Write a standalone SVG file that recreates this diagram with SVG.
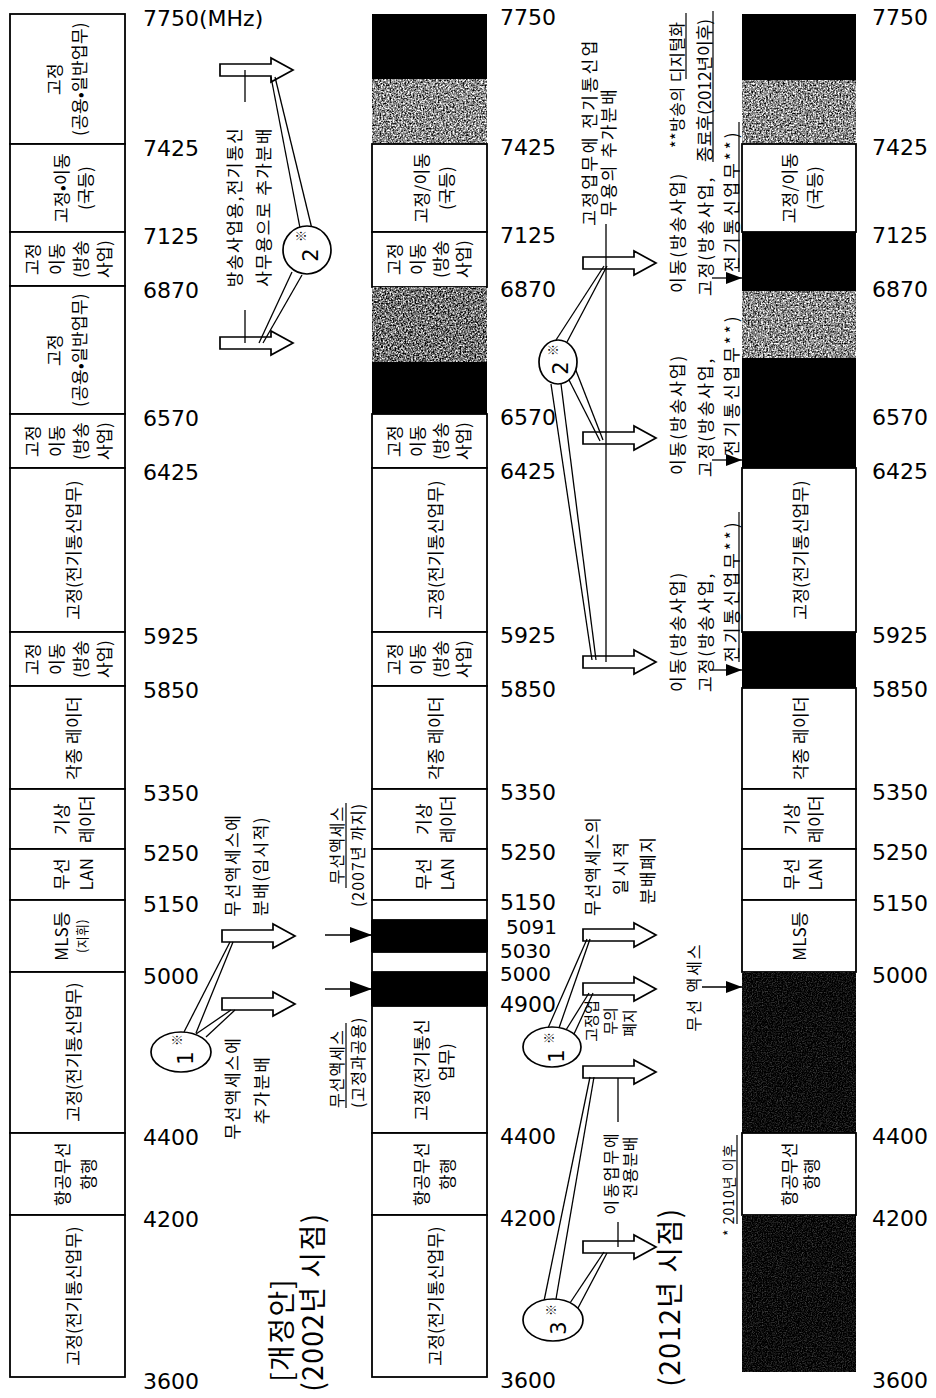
<svg xmlns="http://www.w3.org/2000/svg" width="936" height="1398" viewBox="0 0 936 1398">
<defs>
<style>
.n{font-family:"DejaVu Sans","Liberation Sans",sans-serif;font-size:22px;fill:#000}
.n2{font-size:20px}
.k{font-family:"Noto Sans CJK KR","Noto Sans",sans-serif;font-size:17px;letter-spacing:0.3px;text-anchor:middle;dominant-baseline:central;fill:#000}
.a{font-family:"Noto Sans CJK KR","Noto Sans",sans-serif;font-size:17px;letter-spacing:1.5px;text-anchor:middle;dominant-baseline:central;fill:#000}
.s{text-anchor:start}
.t{font-family:"Noto Sans CJK KR","Noto Sans",sans-serif;font-size:28px;letter-spacing:1.5px;text-anchor:middle;dominant-baseline:central;fill:#000}
.d{font-family:"DejaVu Sans","Liberation Sans",sans-serif;font-size:21px;text-anchor:middle;dominant-baseline:central;fill:#000}
.m{font-family:"Noto Sans CJK KR",sans-serif;font-size:12px;text-anchor:middle;dominant-baseline:central;fill:#000}
.box{fill:#fff;stroke:#000;stroke-width:1.8}
.blk{fill:#000}
.ln{stroke:#000;stroke-width:1.3;fill:none}
.ul{stroke:#000;stroke-width:1.2;fill:none}
.ba{fill:#fff;stroke:#000;stroke-width:1.7}
.el{fill:#fff;stroke:#000;stroke-width:1.7}
</style>
<filter id="grain" x="0" y="0" width="1" height="1" color-interpolation-filters="sRGB">
<feTurbulence type="fractalNoise" baseFrequency="0.6" numOctaves="3" seed="4"/>
<feColorMatrix type="matrix" values="2 0 0 0 -0.45  2 0 0 0 -0.45  2 0 0 0 -0.45  0 0 0 0 1"/>
</filter>
<filter id="grain2" x="0" y="0" width="1" height="1" color-interpolation-filters="sRGB">
<feTurbulence type="fractalNoise" baseFrequency="0.6" numOctaves="3" seed="9"/>
<feColorMatrix type="matrix" values="2 0 0 0 -0.55  2 0 0 0 -0.55  2 0 0 0 -0.55  0 0 0 0 1"/>
</filter>
<filter id="dgrain" x="0" y="0" width="1" height="1" color-interpolation-filters="sRGB">
<feTurbulence type="fractalNoise" baseFrequency="0.8" numOctaves="2" seed="2"/>
<feColorMatrix type="matrix" values="0.6 0 0 0 -0.25  0.6 0 0 0 -0.25  0.6 0 0 0 -0.25  0 0 0 0 1"/>
</filter>
<path id="ba" class="ba" d="M0,-6 H51 V-12 L73,0 L51,12 V6 H0 Z"/>
<marker id="ah" viewBox="0 0 16 12" refX="16" refY="6" markerWidth="16" markerHeight="12" markerUnits="userSpaceOnUse" orient="auto"><path d="M0,0 L16,6 L0,12 Z" fill="#000"/></marker>
<marker id="ah2" viewBox="0 0 22 16" refX="22" refY="8" markerWidth="22" markerHeight="16" markerUnits="userSpaceOnUse" orient="auto"><path d="M0,0 L22,8 L0,16 Z" fill="#000"/></marker>
</defs>
<rect width="936" height="1398" fill="#fff"/>

<!-- ===== Column 1 (current) ===== -->
<g id="c1-7425-7750"><rect class="box" x="10" y="14" width="115" height="130"/>
<text class="k" transform="translate(53,79) rotate(-90)">고정</text>
<text class="k" transform="translate(78,79) rotate(-90)">(공용•일반업무)</text></g>
<g id="c1-7125-7425"><rect class="box" x="10" y="144" width="115" height="88"/>
<text class="k" transform="translate(60,188) rotate(-90)">고정•이동</text>
<text class="k" transform="translate(84,188) rotate(-90)">(국등)</text></g>
<g id="c1-6870-7125"><rect class="box" x="10" y="232" width="115" height="54"/>
<text class="k" transform="translate(31,259) rotate(-90)">고정</text>
<text class="k" transform="translate(55,259) rotate(-90)">이동</text>
<text class="k" transform="translate(79,259) rotate(-90)">(방송</text>
<text class="k" transform="translate(103,259) rotate(-90)">사업)</text></g>
<g id="c1-6570-6870"><rect class="box" x="10" y="286" width="115" height="128"/>
<text class="k" transform="translate(53,350) rotate(-90)">고정</text>
<text class="k" transform="translate(78,350) rotate(-90)">(공용•일반업무)</text></g>
<g id="c1-6425-6570"><rect class="box" x="10" y="414" width="115" height="54"/>
<text class="k" transform="translate(31,441) rotate(-90)">고정</text>
<text class="k" transform="translate(55,441) rotate(-90)">이동</text>
<text class="k" transform="translate(79,441) rotate(-90)">(방송</text>
<text class="k" transform="translate(103,441) rotate(-90)">사업)</text></g>
<g id="c1-5925-6425"><rect class="box" x="10" y="468" width="115" height="164"/>
<text class="k" transform="translate(72,550) rotate(-90)">고정(전기통신업무)</text></g>
<g id="c1-5850-5925"><rect class="box" x="10" y="632" width="115" height="54"/>
<text class="k" transform="translate(31,659) rotate(-90)">고정</text>
<text class="k" transform="translate(55,659) rotate(-90)">이동</text>
<text class="k" transform="translate(79,659) rotate(-90)">(방송</text>
<text class="k" transform="translate(103,659) rotate(-90)">사업)</text></g>
<g id="c1-5350-5850"><rect class="box" x="10" y="686" width="115" height="103"/>
<text class="k" transform="translate(72,738) rotate(-90)">각종 레이더</text></g>
<g id="c1-5250-5350"><rect class="box" x="10" y="789" width="115" height="60"/>
<text class="k" transform="translate(60,819) rotate(-90)">기상</text>
<text class="k" transform="translate(85,819) rotate(-90)">레이더</text></g>
<g id="c1-5150-5250"><rect class="box" x="10" y="849" width="115" height="51"/>
<text class="k" transform="translate(60,874) rotate(-90)">무선</text>
<text class="k" transform="translate(85,874) rotate(-90)">LAN</text></g>
<g id="c1-5000-5150"><rect class="box" x="10" y="900" width="115" height="72"/>
<text class="k" transform="translate(60,936) rotate(-90)">MLS등</text>
<text class="k" style="font-size:13px" transform="translate(81,936) rotate(-90)">(지휘)</text></g>
<g id="c1-4400-5000"><rect class="box" x="10" y="972" width="115" height="161"/>
<text class="k" transform="translate(72,1052) rotate(-90)">고정(전기통신업무)</text></g>
<g id="c1-4200-4400"><rect class="box" x="10" y="1133" width="115" height="82"/>
<text class="k" transform="translate(61,1174) rotate(-90)">항공무선</text>
<text class="k" transform="translate(87,1174) rotate(-90)">항행</text></g>
<g id="c1-3600-4200"><rect class="box" x="10" y="1215" width="115" height="162"/>
<text class="k" transform="translate(72,1296) rotate(-90)">고정(전기통신업무)</text></g>

<g id="c1-scale">
<text class="n" x="143" y="26">7750(MHz)</text>
<text class="n" x="143" y="156">7425</text>
<text class="n" x="143" y="244">7125</text>
<text class="n" x="143" y="298">6870</text>
<text class="n" x="143" y="426">6570</text>
<text class="n" x="143" y="480">6425</text>
<text class="n" x="143" y="644">5925</text>
<text class="n" x="143" y="698">5850</text>
<text class="n" x="143" y="801">5350</text>
<text class="n" x="143" y="861">5250</text>
<text class="n" x="143" y="912">5150</text>
<text class="n" x="143" y="984">5000</text>
<text class="n" x="143" y="1145">4400</text>
<text class="n" x="143" y="1227">4200</text>
<text class="n" x="143" y="1389">3600</text>
</g>

<!-- ===== Column 2 (2002) ===== -->
<g id="c2-7620-7750"><rect class="blk" x="372" y="14" width="115" height="65"/></g>
<g id="c2-7425-7620"><rect x="372" y="79" width="115" height="65" fill="#999" filter="url(#grain)"/></g>
<g id="c2-7125-7425"><rect class="box" x="372" y="144" width="115" height="88"/>
<text class="k" transform="translate(420,188) rotate(-90)">고정/이동</text>
<text class="k" transform="translate(445,188) rotate(-90)">(국등)</text></g>
<g id="c2-6870-7125"><rect class="box" x="372" y="232" width="115" height="55"/>
<text class="k" transform="translate(393,259) rotate(-90)">고정</text>
<text class="k" transform="translate(416,259) rotate(-90)">이동</text>
<text class="k" transform="translate(439,259) rotate(-90)">(방송</text>
<text class="k" transform="translate(462,259) rotate(-90)">사업)</text></g>
<g id="c2-6700-6870"><rect x="372" y="287" width="115" height="75" fill="#888" filter="url(#grain2)"/></g>
<g id="c2-6570-6700"><rect class="blk" x="372" y="362" width="115" height="52"/></g>
<g id="c2-6425-6570"><rect class="box" x="372" y="414" width="115" height="54"/>
<text class="k" transform="translate(393,441) rotate(-90)">고정</text>
<text class="k" transform="translate(416,441) rotate(-90)">이동</text>
<text class="k" transform="translate(439,441) rotate(-90)">(방송</text>
<text class="k" transform="translate(462,441) rotate(-90)">사업)</text></g>
<g id="c2-5925-6425"><rect class="box" x="372" y="468" width="115" height="164"/>
<text class="k" transform="translate(434,550) rotate(-90)">고정(전기통신업무)</text></g>
<g id="c2-5850-5925"><rect class="box" x="372" y="632" width="115" height="54"/>
<text class="k" transform="translate(393,659) rotate(-90)">고정</text>
<text class="k" transform="translate(416,659) rotate(-90)">이동</text>
<text class="k" transform="translate(439,659) rotate(-90)">(방송</text>
<text class="k" transform="translate(462,659) rotate(-90)">사업)</text></g>
<g id="c2-5350-5850"><rect class="box" x="372" y="686" width="115" height="103"/>
<text class="k" transform="translate(434,738) rotate(-90)">각종 레이더</text></g>
<g id="c2-5250-5350"><rect class="box" x="372" y="789" width="115" height="60"/>
<text class="k" transform="translate(422,819) rotate(-90)">기상</text>
<text class="k" transform="translate(446,819) rotate(-90)">레이더</text></g>
<g id="c2-5150-5250"><rect class="box" x="372" y="849" width="115" height="51"/>
<text class="k" transform="translate(422,874) rotate(-90)">무선</text>
<text class="k" transform="translate(446,874) rotate(-90)">LAN</text></g>
<g id="c2-5091-5150"><rect class="box" x="372" y="900" width="115" height="20"/></g>
<g id="c2-5030-5091"><rect class="blk" x="371" y="920" width="117" height="32"/></g>
<g id="c2-5000-5030"><rect class="box" x="372" y="952" width="115" height="20"/></g>
<g id="c2-4900-5000"><rect class="blk" x="371" y="972" width="117" height="34"/></g>
<g id="c2-4400-4900"><rect class="box" x="372" y="1006" width="115" height="127"/>
<text class="k" transform="translate(420,1070) rotate(-90)">고정(전기통신</text>
<text class="k" transform="translate(445,1062) rotate(-90)">업무)</text></g>
<g id="c2-4200-4400"><rect class="box" x="372" y="1133" width="115" height="82"/>
<text class="k" transform="translate(420,1174) rotate(-90)">항공무선</text>
<text class="k" transform="translate(446,1174) rotate(-90)">항행</text></g>
<g id="c2-3600-4200"><rect class="box" x="372" y="1215" width="115" height="162"/>
<text class="k" transform="translate(434,1296) rotate(-90)">고정(전기통신업무)</text></g>

<g id="c2-scale">
<text class="n" x="500" y="25">7750</text>
<text class="n" x="500" y="155">7425</text>
<text class="n" x="500" y="243">7125</text>
<text class="n" x="500" y="297">6870</text>
<text class="n" x="500" y="425">6570</text>
<text class="n" x="500" y="479">6425</text>
<text class="n" x="500" y="643">5925</text>
<text class="n" x="500" y="697">5850</text>
<text class="n" x="500" y="800">5350</text>
<text class="n" x="500" y="860">5250</text>
<text class="n" x="500" y="910">5150</text>
<text class="n n2" x="506" y="934">5091</text>
<text class="n n2" x="500" y="957.5">5030</text>
<text class="n n2" x="500" y="981">5000</text>
<text class="n" x="500" y="1012">4900</text>
<text class="n" x="500" y="1144">4400</text>
<text class="n" x="500" y="1226">4200</text>
<text class="n" x="500" y="1388">3600</text>
</g>

<!-- ===== Column 3 (2012) ===== -->
<g id="c3-7620-7750"><rect class="blk" x="742" y="14" width="114" height="66"/></g>
<g id="c3-7425-7620"><rect x="742" y="80" width="114" height="64" fill="#999" filter="url(#grain)"/></g>
<g id="c3-7125-7425"><rect class="box" x="742" y="144" width="114" height="88"/>
<text class="k" transform="translate(788,188) rotate(-90)">고정/이동</text>
<text class="k" transform="translate(813,188) rotate(-90)">(국등)</text></g>
<g id="c3-6870-7125"><rect class="blk" x="742" y="232" width="114" height="59"/></g>
<g id="c3-6700-6870"><rect x="742" y="291" width="114" height="67" fill="#999" filter="url(#grain)"/></g>
<g id="c3-6425-6700"><rect class="blk" x="742" y="358" width="114" height="110"/></g>
<g id="c3-5925-6425"><rect class="box" x="742" y="468" width="114" height="164"/>
<text class="k" transform="translate(799,550) rotate(-90)">고정(전기통신업무)</text></g>
<g id="c3-5850-5925"><rect class="blk" x="742" y="632" width="114" height="56"/></g>
<g id="c3-5350-5850"><rect class="box" x="742" y="688" width="114" height="101"/>
<text class="k" transform="translate(799,738) rotate(-90)">각종 레이더</text></g>
<g id="c3-5250-5350"><rect class="box" x="742" y="789" width="114" height="60"/>
<text class="k" transform="translate(790,819) rotate(-90)">기상</text>
<text class="k" transform="translate(814,819) rotate(-90)">레이더</text></g>
<g id="c3-5150-5250"><rect class="box" x="742" y="849" width="114" height="51"/>
<text class="k" transform="translate(790,874) rotate(-90)">무선</text>
<text class="k" transform="translate(814,874) rotate(-90)">LAN</text></g>
<g id="c3-5000-5150"><rect class="box" x="742" y="900" width="114" height="72"/>
<text class="k" transform="translate(798,936) rotate(-90)">MLS등</text></g>
<g id="c3-4400-5000"><rect x="742" y="972" width="114" height="161" fill="#111" filter="url(#dgrain)"/></g>
<g id="c3-4200-4400"><rect class="box" x="742" y="1133" width="114" height="82"/>
<text class="k" transform="translate(788,1174) rotate(-90)">항공무선</text>
<text class="k" transform="translate(810,1174) rotate(-90)">항행</text></g>
<g id="c3-3600-4200"><rect x="742" y="1215" width="114" height="157" fill="#111" filter="url(#dgrain)"/></g>

<g id="c3-scale">
<text class="n" x="872" y="25">7750</text>
<text class="n" x="872" y="155">7425</text>
<text class="n" x="872" y="243">7125</text>
<text class="n" x="872" y="297">6870</text>
<text class="n" x="872" y="425">6570</text>
<text class="n" x="872" y="479">6425</text>
<text class="n" x="872" y="643">5925</text>
<text class="n" x="872" y="697">5850</text>
<text class="n" x="872" y="800">5350</text>
<text class="n" x="872" y="860">5250</text>
<text class="n" x="872" y="911">5150</text>
<text class="n" x="872" y="983">5000</text>
<text class="n" x="872" y="1144">4400</text>
<text class="n" x="872" y="1226">4200</text>
<text class="n" x="872" y="1388">3600</text>
</g>

<!-- ===== Connectors ===== -->
<g id="connectors">
<use href="#ba" x="220" y="70"/>
<use href="#ba" x="220" y="343"/>
<use href="#ba" x="222" y="936"/>
<use href="#ba" x="222" y="1004"/>
<line class="ln" x1="245" y1="70" x2="245" y2="102"/>
<line class="ln" x1="245" y1="310" x2="245" y2="343"/>
<line class="ln" x1="271" y1="77" x2="300" y2="228"/>
<line class="ln" x1="275" y1="77" x2="312" y2="229"/>
<line class="ln" x1="259" y1="343" x2="292" y2="272"/>
<line class="ln" x1="263" y1="343" x2="302" y2="275"/>
<line class="ln" x1="230" y1="942" x2="184" y2="1032"/>
<line class="ln" x1="233" y1="942" x2="196" y2="1033"/>
<line class="ln" x1="231" y1="1010" x2="196" y2="1034"/>
<line class="ln" x1="235" y1="1010" x2="206" y2="1037"/>
<line class="ln" x1="325" y1="935" x2="372" y2="935" marker-end="url(#ah2)"/>
<line class="ln" x1="325" y1="989" x2="372" y2="989" marker-end="url(#ah2)"/>

<use href="#ba" x="583" y="263"/>
<use href="#ba" x="583" y="438"/>
<use href="#ba" x="583" y="662"/>
<use href="#ba" x="583" y="935"/>
<use href="#ba" x="583" y="989"/>
<use href="#ba" x="583" y="1072"/>
<use href="#ba" x="583" y="1247"/>
<line class="ln" x1="606" y1="224" x2="606" y2="662"/>
<line class="ln" x1="556" y1="340" x2="604" y2="266"/>
<line class="ln" x1="567" y1="342" x2="607" y2="266"/>
<line class="ln" x1="575" y1="368" x2="603" y2="440"/>
<line class="ln" x1="568" y1="378" x2="600" y2="441"/>
<line class="ln" x1="551" y1="384" x2="592" y2="660"/>
<line class="ln" x1="561" y1="384" x2="596" y2="660"/>
<line class="ln" x1="548" y1="1028" x2="587" y2="939"/>
<line class="ln" x1="559" y1="1028" x2="590" y2="939"/>
<line class="ln" x1="566" y1="1030" x2="589" y2="993"/>
<line class="ln" x1="574" y1="1034" x2="593" y2="993"/>
<line class="ln" x1="544" y1="1301" x2="590" y2="1077"/>
<line class="ln" x1="556" y1="1299" x2="594" y2="1077"/>
<line class="ln" x1="570" y1="1303" x2="604" y2="1252"/>
<line class="ln" x1="578" y1="1308" x2="607" y2="1253"/>
<line class="ln" x1="618" y1="1078" x2="618" y2="1122"/>
<line class="ln" x1="618" y1="1222" x2="618" y2="1247"/>

<line class="ln" x1="712" y1="278" x2="742" y2="278" marker-end="url(#ah)"/>
<line class="ln" x1="712" y1="460" x2="742" y2="460" marker-end="url(#ah)"/>
<line class="ln" x1="712" y1="670" x2="742" y2="670" marker-end="url(#ah)"/>
<line class="ln" x1="702" y1="987" x2="742" y2="987" marker-end="url(#ah)"/>
</g>

<!-- ===== Note markers ===== -->
<g id="note2-a"><ellipse class="el" cx="307" cy="250" rx="24" ry="24"/>
<text class="d" transform="translate(311,255) rotate(-90)">2</text>
<text class="m" transform="translate(300,236) rotate(-90)">※</text></g>
<g id="note1-a"><ellipse class="el" cx="181" cy="1052" rx="30" ry="20"/>
<text class="d" transform="translate(186,1058) rotate(-90)">1</text>
<text class="m" transform="translate(176,1040) rotate(-90)">※</text></g>
<g id="note2-b"><ellipse class="el" cx="558" cy="362" rx="19" ry="22"/>
<text class="d" transform="translate(561,368) rotate(-90)">2</text>
<text class="m" transform="translate(552,350) rotate(-90)">※</text></g>
<g id="note1-b"><ellipse class="el" cx="552" cy="1047" rx="29" ry="20"/>
<text class="d" transform="translate(557,1056) rotate(-90)">1</text>
<text class="m" transform="translate(548,1038) rotate(-90)">※</text></g>
<g id="note3-b"><ellipse class="el" cx="553" cy="1320" rx="30" ry="21"/>
<text class="d" transform="translate(559,1328) rotate(-90)">3</text>
<text class="m" transform="translate(550,1310) rotate(-90)">※</text></g>

<!-- ===== Annotations ===== -->
<g id="ann-col1">
<text class="a" transform="translate(233,207) rotate(-90)">방송사업용,전기통신</text>
<text class="a" transform="translate(262,207) rotate(-90)">사무용으로 추가분배</text>
<text class="a" transform="translate(231,865) rotate(-90)">무선액세스에</text>
<text class="a" transform="translate(259,866) rotate(-90)">분배(임시적)</text>
<text class="a" transform="translate(231,1088) rotate(-90)">무선액세스에</text>
<text class="a" transform="translate(260,1090) rotate(-90)">추가분배</text>
<text class="t" transform="translate(280,1330) rotate(-90)">[개정안]</text>
<text class="t" transform="translate(311,1302) rotate(-90)">(2002년 시점)</text>
</g>
<g id="ann-col2">
<text class="a" style="font-size:16px;letter-spacing:1px" transform="translate(336,845) rotate(-90)">무선액세스</text>
<text class="a" style="font-size:16px;letter-spacing:1px" transform="translate(357,855) rotate(-90)">(2007년 까지)</text>
<line class="ul" x1="346" y1="803" x2="346" y2="888"/>
<text class="a s" style="font-size:16px;letter-spacing:1px" transform="translate(336,1108) rotate(-90)">무선액세스</text>
<text class="a s" style="font-size:16px;letter-spacing:1px" transform="translate(357,1108) rotate(-90)">(고정과공용)</text>
<line class="ul" x1="346" y1="1023" x2="346" y2="1108"/>
<text class="a" style="letter-spacing:2.5px" transform="translate(588,132) rotate(-90)">고정업무에 전기통신업</text>
<text class="a" style="letter-spacing:2px" transform="translate(607,152) rotate(-90)">무용의 추가분배</text>
<text class="a" style="letter-spacing:1px" transform="translate(591,866) rotate(-90)">무선액세스의</text>
<text class="a" style="letter-spacing:3px" transform="translate(619,867) rotate(-90)">일시적</text>
<text class="a" style="letter-spacing:1.5px" transform="translate(646,870) rotate(-90)">분배폐지</text>
<text class="a" style="font-size:15px;letter-spacing:0" transform="translate(590,1021) rotate(-90)">고정업</text>
<text class="a" style="font-size:15px;letter-spacing:0" transform="translate(609,1021) rotate(-90)">무의</text>
<text class="a" style="font-size:15px;letter-spacing:0" transform="translate(628,1023) rotate(-90)">폐지</text>
<text class="a" style="font-size:16px;letter-spacing:2px" transform="translate(610,1173) rotate(-90)">이동업무에</text>
<text class="a" style="font-size:16px;letter-spacing:1px" transform="translate(629,1167) rotate(-90)">전용분배</text>
<text class="t" transform="translate(668,1297) rotate(-90)">(2012년 시점)</text>
</g>
<g id="ann-col3">
<text class="a s" style="font-size:16px;letter-spacing:0.5px" transform="translate(676,148) rotate(-90)">**방송의 디지털화</text>
<line class="ul" x1="686" y1="13" x2="686" y2="79"/>
<text class="a s" style="letter-spacing:0" transform="translate(703,162) rotate(-90)">종료후(2012년이후)</text>
<line class="ul" x1="713" y1="11" x2="713" y2="162"/>
<text class="a s" style="letter-spacing:2px" transform="translate(676,293) rotate(-90)">이동(방송사업)</text>
<text class="a s" style="letter-spacing:2px" transform="translate(704,296) rotate(-90)">고정(방송사업,</text>
<text class="a s" style="letter-spacing:3px" transform="translate(730,272) rotate(-90)">전기통신업무**)</text>
<line class="ul" x1="739" y1="122" x2="739" y2="272"/>
<text class="a s" style="letter-spacing:2px" transform="translate(676,475) rotate(-90)">이동(방송사업)</text>
<text class="a s" style="letter-spacing:2px" transform="translate(704,477) rotate(-90)">고정(방송사업,</text>
<text class="a s" style="letter-spacing:3px" transform="translate(730,456) rotate(-90)">전기통신업무**)</text>
<text class="a s" style="letter-spacing:2px" transform="translate(676,692) rotate(-90)">이동(방송사업)</text>
<text class="a s" style="letter-spacing:2px" transform="translate(704,692) rotate(-90)">고정(방송사업,</text>
<text class="a s" style="letter-spacing:3px" transform="translate(730,662) rotate(-90)">전기통신업무**)</text>
<line class="ul" x1="739" y1="512" x2="739" y2="662"/>
<text class="a" style="font-size:16px;letter-spacing:2px" transform="translate(693,987) rotate(-90)">무선 액세스</text>
<text class="a s" style="font-size:14px;letter-spacing:1px" transform="translate(728,1236) rotate(-90)">* 2010년 이후</text>
<line class="ul" x1="737" y1="1135" x2="737" y2="1224"/>
</g>
</svg>
